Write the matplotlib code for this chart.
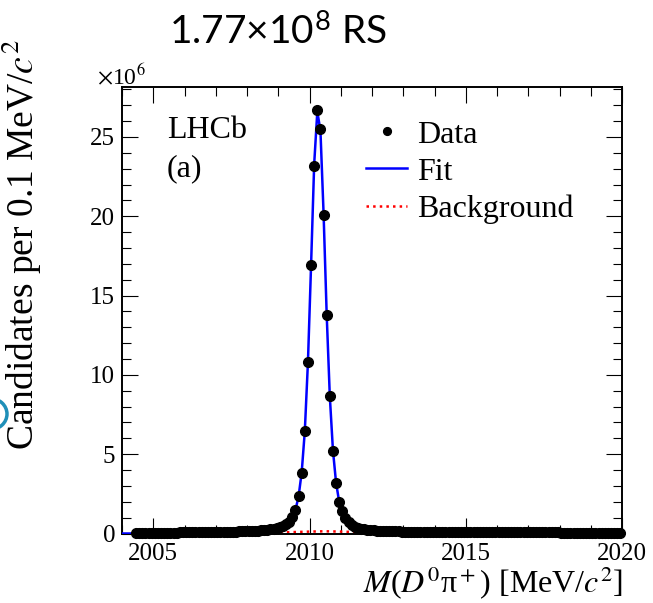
import numpy as np
import matplotlib
matplotlib.use("Agg")
import matplotlib.pyplot as plt
from matplotlib.patches import Circle

plt.rcParams['font.family'] = ['Liberation Serif', 'DejaVu Serif']
plt.rcParams['mathtext.fontset'] = 'stix'

# bin centres, 0.1 MeV wide, 2004.45 .. 2019.95
mass = np.round(np.arange(2004.45, 2020.0, 0.1), 2)

# candidates per bin, in units of 1e6
candidates = [
    0.01, 0.02, 0.02, 0.03, 0.03, 0.04,
    0.04, 0.04, 0.05, 0.05, 0.05, 0.06, 0.06, 0.06, 0.07, 0.07,
    0.07, 0.08, 0.08, 0.08, 0.09, 0.09, 0.09, 0.10, 0.10, 0.10,
    0.10, 0.11, 0.11, 0.11, 0.12, 0.12, 0.12, 0.13, 0.13, 0.14,
    0.15, 0.16, 0.17, 0.18, 0.19, 0.21, 0.23, 0.26, 0.29, 0.33,
    0.38, 0.46, 0.58, 0.75, 1.03, 1.46, 2.34, 3.82, 6.47, 10.8,
    16.9, 23.2, 26.7, 25.5, 20.1, 13.8, 8.67, 5.20, 3.18, 1.98,
    1.39, 0.97, 0.72, 0.55, 0.44, 0.36, 0.30, 0.26, 0.23, 0.21,
    0.19, 0.18, 0.17, 0.16, 0.15, 0.14, 0.14, 0.13, 0.13, 0.12,
    0.12, 0.12, 0.11, 0.11, 0.11, 0.10, 0.10, 0.10, 0.10, 0.10,
    0.09, 0.09, 0.09, 0.09, 0.09, 0.09, 0.09, 0.09, 0.09, 0.09,
    0.09, 0.09, 0.08, 0.08, 0.08, 0.08, 0.08, 0.08, 0.08, 0.08,
    0.08, 0.08, 0.08, 0.08, 0.08, 0.07, 0.07, 0.07, 0.07, 0.07,
    0.07, 0.07, 0.07, 0.07, 0.07, 0.07, 0.07, 0.07, 0.07, 0.07,
    0.06, 0.06, 0.06, 0.06, 0.06, 0.06, 0.06, 0.06, 0.06, 0.06,
    0.06, 0.06, 0.06, 0.06, 0.06, 0.06, 0.06, 0.06, 0.06, 0.06,
]

# fit curve
fit_mass = [2004.0, 2004.4, 2005.0, 2006.0, 2007.0, 2008.0, 2008.5, 2009.0,
            2009.15, 2009.25, 2009.35, 2009.45, 2009.55, 2009.65, 2009.75,
            2009.85, 2009.95, 2010.05, 2010.15, 2010.25, 2010.35, 2010.45,
            2010.55, 2010.65, 2010.75, 2010.85, 2010.95, 2011.05, 2011.15,
            2011.25, 2011.5, 2012.0, 2013.0, 2014.0, 2016.0, 2018.0, 2020.0]
fit = [0.0, 0.0, 0.04, 0.08, 0.11, 0.15, 0.21, 0.35,
       0.46, 0.58, 0.76, 1.02, 1.48, 2.33, 3.85,
       6.45, 10.8, 16.9, 23.3, 26.6, 25.4, 20.2,
       13.8, 8.65, 5.25, 3.2, 2.0, 1.37, 0.97,
       0.72, 0.40, 0.20, 0.12, 0.09, 0.08, 0.07, 0.06]

# background component
bkg_mass = [2004.4, 2005.0, 2006.0, 2007.0, 2008.0, 2009.0, 2009.5, 2010.0,
            2010.5, 2011.0, 2011.5, 2012.0, 2014.0, 2016.0, 2018.0, 2020.0]
bkg = [0.0, 0.02, 0.04, 0.05, 0.06, 0.07, 0.09, 0.12,
       0.14, 0.12, 0.09, 0.08, 0.07, 0.06, 0.05, 0.05]

fig = plt.figure(figsize=(6.53, 6.03), dpi=100)
ax = fig.add_axes([122/653, 1-533.5/603, 500/653, 446.5/603])

ax.plot(bkg_mass, bkg, color='red', ls=':', lw=1.8, label='Background', zorder=2)
ax.plot(fit_mass, fit, color='blue', lw=1.8, label='Fit', zorder=3)
ax.plot(mass, candidates, 'o', color='black', ms=7, clip_on=False,
        label='Data', zorder=4)

ax.set_xlim(2004.0, 2020.0)
ax.set_ylim(0, 28.15)
ax.set_xticks([2005, 2010, 2015, 2020])
ax.set_xticks(np.arange(2004, 2021, 1), minor=True)
ax.set_yticks([0, 5, 10, 15, 20, 25])
ax.set_yticks(np.arange(0, 29, 1), minor=True)
ax.tick_params(which='both', direction='in', top=True, right=True, width=0.8,
               labelsize=18)
ax.tick_params(which='major', length=11.5)
ax.tick_params(which='minor', length=6.5)
ax.tick_params(axis='x', pad=7)
ax.tick_params(axis='y', pad=5)
for s in ax.spines.values():
    s.set_linewidth(1.4)

h, l = ax.get_legend_handles_labels()
order = [2, 1, 0]
ax.legend([h[i] for i in order], [l[i] for i in order], loc='upper left',
          bbox_to_anchor=(0.43, 0.99), frameon=False, fontsize=23,
          handlelength=1.3, handletextpad=0.3, labelspacing=0.24, markerscale=0.8)

ax.text(0.09, 0.885, 'LHCb', transform=ax.transAxes, fontsize=23)
ax.text(0.09, 0.80, '(a)', transform=ax.transAxes, fontsize=23)

fig.text(623/653, 1-593/603, r'$M$($D^0$π$^+$) [MeV/$c^2$]', fontsize=23,
         ha='right', va='baseline')

fig.text(22/653, 1-245/603, r'Candidates per 0.1 MeV/$c^2$', rotation=90,
         ha='center', va='center', fontsize=27)
fig.text(97/653, 1-84/603, r'$\times$10$^6$', fontsize=17, va='baseline')
fig.text(278/653, 1-32/603, r'1.77×10$^{\mathregular{8}}$ RS', family='Lato',
         fontsize=28, ha='center', va='center')

# stray slide ornament at the left edge
fig.patches.append(Circle((-10/653, 1-414/603), 17/653, transform=fig.transFigure,
                          fill=False, lw=2.5, color='#1f8fb8'))

fig.savefig('out.png', dpi=100)
